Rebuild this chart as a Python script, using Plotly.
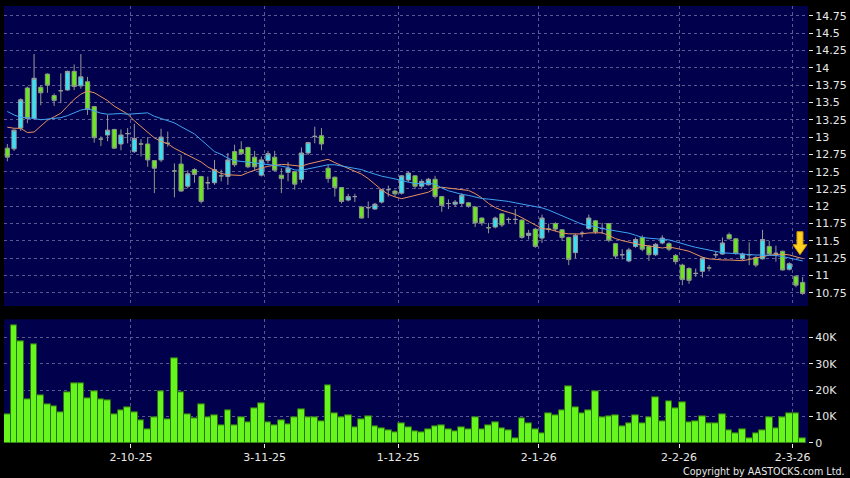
import pandas as pd
import plotly.graph_objects as go

# ---------------- data ----------------
holidays = ["2025-10-01", "2025-10-07", "2025-10-29", "2025-12-25", "2025-12-26",
            "2026-01-01", "2026-02-17", "2026-02-18", "2026-02-19"]
dates = [d for d in pd.bdate_range("2025-09-04", "2026-03-03")
         if d.strftime("%Y-%m-%d") not in holidays]

open_ = [12.84, 12.83, 13.13, 13.71, 13.27, 13.72, 13.91, 13.60, 13.67, 13.68,
         13.95, 13.74, 13.80, 13.44, 12.97, 13.03, 13.11, 12.90, 13.05, 12.79,
         12.90, 12.90, 12.66, 12.67, 12.91, 12.51, 12.61, 12.29, 12.53, 12.43,
         12.34, 12.34, 12.44, 12.43, 12.79, 12.82, 12.85, 12.71, 12.45, 12.66,
         12.71, 12.45, 12.49, 12.50, 12.39, 12.77, 13.01, 13.02, 12.55, 12.42,
         12.27, 12.09, 12.14, 11.99, 11.98, 11.96, 12.06, 12.24, 12.22, 12.19,
         12.38, 12.44, 12.29, 12.31, 12.39, 12.14, 12.04, 12.03, 12.04, 12.05,
         11.99, 11.83, 11.69, 11.70, 11.89, 11.81, 11.81, 11.80, 11.58, 11.67,
         11.54, 11.67, 11.75, 11.66, 11.55, 11.33, 11.61, 11.68, 11.79, 11.68,
         11.75, 11.46, 11.30, 11.21, 11.42, 11.55, 11.42, 11.30, 11.47, 11.46,
         11.29, 11.15, 11.10, 11.03, 11.06, 11.11, 11.30, 11.31, 11.59, 11.53,
         11.24, 11.30, 11.26, 11.24, 11.42, 11.32, 11.35, 11.09, 10.99, 10.90]
high = [12.90, 13.11, 13.56, 13.73, 14.20, 13.75, 13.92, 13.63, 13.92, 13.96,
        14.05, 14.20, 13.87, 13.45, 13.01, 13.32, 13.12, 13.11, 13.13, 13.19,
        12.97, 13.00, 12.66, 13.12, 13.08, 12.62, 12.74, 12.52, 12.55, 12.44,
        12.43, 12.67, 12.53, 12.77, 12.89, 12.94, 12.86, 12.80, 12.72, 12.80,
        12.80, 12.55, 12.64, 12.51, 12.85, 12.93, 13.15, 13.13, 12.60, 12.43,
        12.28, 12.18, 12.18, 12.00, 12.07, 12.05, 12.25, 12.30, 12.24, 12.45,
        12.50, 12.45, 12.39, 12.41, 12.44, 12.15, 12.10, 12.09, 12.19, 12.06,
        12.00, 11.84, 11.76, 11.85, 11.90, 11.84, 11.96, 11.81, 11.66, 11.69,
        11.88, 11.75, 11.77, 11.67, 11.56, 11.60, 11.64, 11.88, 11.80, 11.76,
        11.76, 11.47, 11.38, 11.40, 11.55, 11.58, 11.44, 11.47, 11.58, 11.48,
        11.31, 11.17, 11.12, 11.10, 11.27, 11.15, 11.35, 11.55, 11.62, 11.54,
        11.33, 11.48, 11.28, 11.66, 11.50, 11.43, 11.36, 11.19, 11.00, 10.98]
low = [12.65, 12.80, 13.09, 13.20, 13.25, 13.46, 13.64, 13.45, 13.49, 13.67,
       13.68, 13.70, 13.32, 12.92, 12.87, 12.94, 12.83, 12.81, 12.91, 12.77,
       12.72, 12.57, 12.19, 12.64, 12.86, 12.13, 12.21, 12.26, 12.34, 12.04,
       12.24, 12.31, 12.36, 12.31, 12.57, 12.74, 12.55, 12.52, 12.43, 12.62,
       12.50, 12.19, 12.36, 12.24, 12.34, 12.74, 12.91, 12.81, 12.34, 12.14,
       12.04, 12.07, 12.06, 11.82, 11.83, 11.95, 12.04, 12.14, 12.14, 12.17,
       12.35, 12.25, 12.25, 12.30, 12.11, 11.92, 11.96, 11.99, 12.00, 11.98,
       11.70, 11.72, 11.61, 11.68, 11.70, 11.76, 11.74, 11.53, 11.52, 11.40,
       11.47, 11.62, 11.64, 11.50, 11.15, 11.25, 11.55, 11.66, 11.60, 11.60,
       11.48, 11.24, 11.23, 11.19, 11.40, 11.35, 11.21, 11.28, 11.45, 11.35,
       11.16, 10.86, 10.88, 10.98, 10.97, 11.06, 11.25, 11.30, 11.52, 11.30,
       11.22, 11.15, 11.12, 11.23, 11.30, 11.20, 11.07, 11.07, 10.83, 10.72]
close = [12.71, 13.10, 13.54, 13.27, 13.85, 13.64, 13.75, 13.53, 13.67, 13.95,
         13.73, 13.87, 13.40, 12.99, 12.97, 13.10, 12.84, 13.03, 13.05, 12.98,
         12.90, 12.67, 12.55, 13.00, 12.91, 12.51, 12.22, 12.47, 12.46, 12.07,
         12.34, 12.53, 12.44, 12.67, 12.60, 12.76, 12.57, 12.57, 12.67, 12.76,
         12.52, 12.40, 12.55, 12.32, 12.77, 12.92, 13.01, 12.90, 12.40, 12.27,
         12.07, 12.14, 12.14, 11.83, 11.98, 12.03, 12.24, 12.24, 12.18, 12.44,
         12.48, 12.29, 12.36, 12.39, 12.14, 12.01, 12.04, 12.06, 12.16, 12.00,
         11.76, 11.76, 11.69, 11.83, 11.73, 11.81, 11.81, 11.55, 11.61, 11.42,
         11.83, 11.67, 11.67, 11.55, 11.23, 11.58, 11.61, 11.83, 11.63, 11.68,
         11.51, 11.28, 11.30, 11.37, 11.52, 11.38, 11.30, 11.45, 11.54, 11.38,
         11.20, 10.94, 10.93, 11.03, 11.25, 11.11, 11.30, 11.47, 11.53, 11.32,
         11.31, 11.30, 11.15, 11.52, 11.31, 11.32, 11.08, 11.17, 10.86, 10.74]

ma_orange = [13.143, 13.127, 13.127, 13.066, 13.073, 13.160, 13.243, 13.292, 13.345, 13.446,
             13.545, 13.620, 13.665, 13.641, 13.586, 13.527, 13.446, 13.386, 13.333, 13.235,
             13.151, 13.071, 12.988, 12.938, 12.903, 12.838, 12.789, 12.743, 12.693, 12.640,
             12.568, 12.517, 12.474, 12.455, 12.446, 12.445, 12.487, 12.522, 12.553, 12.578,
             12.595, 12.605, 12.600, 12.586, 12.578, 12.611, 12.637, 12.659, 12.679, 12.631,
             12.588, 12.547, 12.505, 12.464, 12.399, 12.316, 12.238, 12.173, 12.135, 12.109,
             12.131, 12.154, 12.179, 12.204, 12.258, 12.276, 12.263, 12.253, 12.242, 12.229,
             12.183, 12.121, 12.040, 11.981, 11.941, 11.914, 11.883, 11.834, 11.778, 11.724,
             11.677, 11.669, 11.643, 11.615, 11.602, 11.597, 11.600, 11.615, 11.621, 11.617,
             11.578, 11.533, 11.504, 11.479, 11.456, 11.438, 11.428, 11.409, 11.397, 11.413,
             11.396, 11.373, 11.350, 11.306, 11.264, 11.240, 11.230, 11.224, 11.224, 11.218,
             11.214, 11.231, 11.253, 11.274, 11.293, 11.303, 11.308, 11.297, 11.270, 11.244]
ma_blue = [13.370, 13.320, 13.285, 13.280, 13.270, 13.250, 13.260, 13.270, 13.280, 13.310,
           13.350, 13.390, 13.410, 13.380, 13.345, 13.330, 13.340, 13.340, 13.330, 13.340,
           13.350, 13.350, 13.300, 13.270, 13.240, 13.205, 13.150, 13.100, 13.045, 12.960,
           12.870, 12.790, 12.750, 12.695, 12.660, 12.650, 12.635, 12.625, 12.620, 12.610,
           12.600, 12.580, 12.560, 12.525, 12.520, 12.540, 12.565, 12.585, 12.600, 12.600,
           12.585, 12.570, 12.553, 12.530, 12.495, 12.464, 12.435, 12.416, 12.397, 12.374,
           12.348, 12.330, 12.326, 12.330, 12.320, 12.264, 12.224, 12.193, 12.173, 12.157,
           12.135, 12.112, 12.104, 12.092, 12.087, 12.070, 12.050, 12.030, 12.013, 11.997,
           11.977, 11.945, 11.904, 11.862, 11.813, 11.773, 11.740, 11.720, 11.705, 11.677,
           11.662, 11.644, 11.628, 11.612, 11.581, 11.549, 11.539, 11.530, 11.521, 11.514,
           11.488, 11.456, 11.432, 11.407, 11.386, 11.362, 11.339, 11.328, 11.322, 11.315,
           11.308, 11.297, 11.296, 11.296, 11.296, 11.289, 11.274, 11.254, 11.230, 11.210]

volume_k = [10.7, 44.7, 38.6, 16.7, 37.5, 18.2, 14.7, 13.7, 11.7, 19.1,
            22.4, 22.4, 17.0, 19.4, 16.5, 16.0, 10.7, 12.5, 13.5, 11.7,
            8.4, 5.0, 9.9, 19.7, 8.8, 32.1, 19.2, 10.8, 9.3, 14.7,
            9.7, 10.6, 6.8, 12.5, 6.8, 9.7, 7.9, 13.0, 15.0, 7.7,
            6.8, 8.4, 6.9, 9.7, 12.8, 9.6, 9.9, 8.2, 21.9, 11.4,
            9.7, 10.6, 6.0, 8.8, 10.1, 6.2, 5.4, 4.7, 3.9, 7.5,
            5.8, 4.5, 4.1, 5.3, 6.3, 6.8, 5.0, 4.3, 5.9, 5.2,
            9.7, 5.2, 6.7, 7.7, 5.5, 4.7, 1.6, 9.2, 7.3, 5.0,
            3.5, 11.2, 10.3, 12.2, 21.4, 13.5, 11.3, 12.5, 19.7, 9.8,
            10.1, 10.3, 6.2, 7.4, 10.3, 7.3, 9.9, 17.2, 8.2, 15.8,
            13.3, 15.3, 7.8, 8.2, 10.2, 7.3, 7.3, 10.9, 4.7, 3.5,
            5.3, 1.9, 3.6, 4.9, 9.6, 5.5, 9.8, 11.4, 11.1, 1.8]

vol_tick_vals = [0, 10000, 20000, 30000, 40000]
vol_tick_text = ["0", "10K", "20K", "30K", "40K"]

# ---------------- derived positions ----------------
idx = list(range(len(dates)))
volume = [v * 1000 for v in volume_k]
date_text = [f"{d.day}-{d.month}-{d:%y}" for d in dates]
first_of_month = [i for i in idx if i > 0 and dates[i].month != dates[i - 1].month]
x_tick_vals = [i - 0.5 for i in first_of_month]
x_tick_text = [date_text[i] for i in first_of_month]

BG = "#000000"
PLOT_BG = "#00004c"
GRID = "#5a5a92"
TXT = "#e8e8e8"
FONT = "DejaVu Sans"

fig = go.Figure()
fig.add_trace(go.Candlestick(
    x=idx, open=open_, high=high, low=low, close=close, hovertext=date_text,
    increasing=dict(line=dict(color="#9a9a9a", width=1), fillcolor="#33e3f5"),
    decreasing=dict(line=dict(color="#8c9a84", width=1), fillcolor="#6ae81e"),
    whiskerwidth=0, showlegend=False, xaxis="x", yaxis="y"))
fig.add_trace(go.Scatter(x=idx, y=ma_orange, mode="lines",
                         line=dict(color="#e8925e", width=1),
                         showlegend=False, hoverinfo="skip", xaxis="x", yaxis="y"))
fig.add_trace(go.Scatter(x=idx, y=ma_blue, mode="lines",
                         line=dict(color="#3fa4f2", width=1),
                         showlegend=False, hoverinfo="skip", xaxis="x", yaxis="y"))
fig.add_trace(go.Bar(x=idx, y=volume, hovertext=date_text,
                     marker=dict(color="#66f51c", line=dict(color="#2d6e12", width=1)),
                     showlegend=False, xaxis="x2", yaxis="y2"))

grid_common = dict(showgrid=True, gridcolor=GRID, gridwidth=1, griddash="3px,3px",
                   zeroline=False, showline=False)

fig.update_layout(
    width=850, height=478,
    paper_bgcolor=BG, plot_bgcolor=PLOT_BG,
    margin=dict(l=4, r=42, t=6, b=35),
    font=dict(family=FONT, size=11, color=TXT),
    bargap=0, boxgap=0.1,
    xaxis=dict(domain=[0, 1], anchor="y", range=[-0.5, 119.8],
               tickvals=x_tick_vals, showticklabels=False, ticks="",
               rangeslider=dict(visible=False), **grid_common),
    yaxis=dict(domain=[0.3135, 1], anchor="x", side="right",
               range=[10.559, 14.894], dtick=0.25, tick0=0,
               ticks="outside", ticklen=4, tickcolor=TXT,
               tickfont=dict(family=FONT, size=11, color=TXT), **grid_common),
    xaxis2=dict(domain=[0, 1], anchor="y2", matches="x", range=[-0.5, 119.8],
                tickvals=x_tick_vals, ticktext=x_tick_text,
                ticks="outside", ticklen=4, tickcolor=TXT,
                tickfont=dict(family=FONT, size=11, color=TXT), **grid_common),
    yaxis2=dict(domain=[0, 0.283], anchor="x2", side="right",
                range=[0, 46800], tickvals=vol_tick_vals, ticktext=vol_tick_text,
                ticks="outside", ticklen=4, tickcolor=TXT,
                tickfont=dict(family=FONT, size=11, color=TXT), **grid_common),
    annotations=[dict(text="Copyright by AASTOCKS.com Ltd.", xref="paper", yref="paper",
                      x=1.048, y=-0.066, xanchor="right", yanchor="middle",
                      showarrow=False, font=dict(family=FONT, size=9.6, color=TXT))],
    shapes=[dict(type="path", xref="x", yref="y", xsizemode="pixel", ysizemode="pixel",
                 xanchor=118.6, yanchor=11.30,
                 path="M 0 0 L -7 10 L -3 10 L -3 23 L 3 23 L 3 10 L 7 10 Z",
                 fillcolor="#ffd21f", line=dict(color="#d89a00", width=1))],
)

fig.write_html("out.html", config={"displayModeBar": False},
               post_script="document.body.style.margin='0';")
